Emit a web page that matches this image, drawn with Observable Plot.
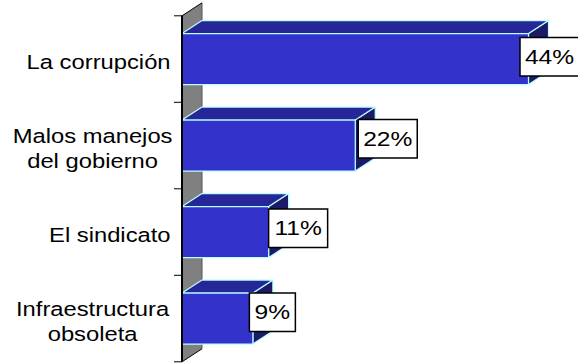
<!DOCTYPE html>
<html><head><meta charset="utf-8">
<style>html,body{margin:0;padding:0;background:#fff}svg{display:block}</style>
<script src="https://cdn.jsdelivr.net/npm/d3@7"></script>
<script src="https://cdn.jsdelivr.net/npm/@observablehq/plot@0.6"></script>
</head><body><div id="c"></div>
<script>
const categories = ["La corrupción", "Malos manejos\ndel gobierno", "El sindicato", "Infraestructura\nobsoleta"];
const values = [44, 22, 11, 9];
const valueLabels = ["44%", "22%", "11%", "9%"];
const rows = categories.map((c, i) => ({c, v: values[i], t: valueLabels[i], multi: c.includes("\n")}));

// 3-D look and label placement (pixels)
const yRange = [15.8, 361.8], paddingOuter = 0.205, paddingInner = 0.41;
const depthX = 20, depthY = -13, fontSize = 20.5;
const catStretch = 1.16, boxStretch = 1.2;
const boxNudge = [[-8.5, -2.3], [3, -6.8], [0, -3.8], [-3.5, -6.3]];
const boxW = [59, 59, 59, 46], boxH = 38.5;

const NS = "http://www.w3.org/2000/svg";
const el = (name, attrs) => {
  const e = document.createElementNS(NS, name);
  for (const k in attrs) e.setAttribute(k, attrs[k]);
  return e;
};
const poly = (pts, fill, stroke) => el("polygon", {
  points: pts.map(d => d.join(",")).join(" "), fill,
  ...(stroke ? {stroke, "stroke-width": 1.2, "stroke-linejoin": "round"} : {})
});
const line = (x1, y1, x2, y2, w, col = "#000") => el("line", {x1, y1, x2, y2, stroke: col, "stroke-width": w});

const wall = (index, sc) => {
  const g = el("g", {});
  const [top, bot] = yRange, x0 = sc.x(0);
  g.append(poly([[x0, top], [x0 + depthX, top + depthY], [x0 + depthX, bot + depthY], [x0, bot]], "#808080"));
  g.append(line(x0 + depthX, top + depthY, x0 + depthX, bot + depthY, 1, "#555"));
  g.append(line(x0, top, x0 + depthX, top + depthY, 1));
  g.append(line(x0, bot, x0 + depthX, bot + depthY, 1));
  return g;
};

const bars = (index, sc) => {
  const g = el("g", {});
  const bw = sc.y.bandwidth(), x0 = sc.x(0), edge = "#b8ffff";
  for (const i of index) {
    const x1 = sc.x(rows[i].v), y0 = sc.y(rows[i].c), y1 = y0 + bw;
    g.append(poly([[x1, y0], [x1 + depthX, y0 + depthY], [x1 + depthX, y1 + depthY], [x1, y1]], "#1a1a66", edge));
    g.append(poly([[x0, y0], [x0 + depthX, y0 + depthY], [x1 + depthX, y0 + depthY], [x1, y0]], "#262699", edge));
    g.append(poly([[x0, y0], [x1, y0], [x1, y1], [x0, y1]], "#3333cc", edge));
  }
  return g;
};

const axisLine = (index, sc) => {
  const g = el("g", {});
  const [top, bot] = yRange, x0 = sc.x(0), step = (bot - top) / categories.length;
  d3.range(categories.length + 1).forEach(i => g.append(line(x0 - 8, top + i * step, x0, top + i * step, 1)));
  g.append(line(x0, top, x0, bot, 2));
  return g;
};

const boxes = (index, sc) => {
  const g = el("g", {});
  for (const i of index) {
    const x = sc.x(rows[i].v) + boxNudge[i][0];
    const yc = sc.y(rows[i].c) + sc.y.bandwidth() / 2 + boxNudge[i][1];
    g.append(el("rect", {x, y: yc - boxH / 2, width: boxW[i], height: boxH, fill: "#fff", stroke: "#000", "stroke-width": 1.5}));
    const t = el("text", {
      transform: `translate(${x + boxW[i] / 2},${yc}) scale(${boxStretch},1)`,
      dy: "0.35em", "text-anchor": "middle", "font-size": fontSize, fill: "#000"
    });
    t.textContent = rows[i].t;
    g.append(t);
  }
  return g;
};

// Category text, widened to the reference's stretched lettering.
const widen = (index, scales, vals, dim, ctx, next) => {
  const g = el("g", {transform: `scale(${catStretch},1)`});
  g.append(next(index, scales, vals, dim, ctx));
  return g;
};
const catText = {y: "c", text: "c", frameAnchor: "left", dy: 1.2, fontSize, lineHeight: 1.234, fill: "#000", render: widen};

const chart = Plot.plot({
  width: 578, height: 363,
  marginLeft: 0, marginRight: 0, marginTop: 0, marginBottom: 0,
  style: {fontFamily: "'Liberation Sans', Arial, sans-serif", background: "#fff"},
  x: {domain: [0, 44], range: [182, 528.5], axis: null},
  y: {domain: categories, range: yRange, paddingInner, paddingOuter, round: false, axis: null},
  marks: [
    Plot.barX(rows, {x: "v", y: "c", render: wall}),
    Plot.barX(rows, {x: "v", y: "c", render: bars}),
    Plot.barX(rows, {x: "v", y: "c", render: axisLine}),
    Plot.barX(rows, {x: "v", y: "c", render: boxes}),
    Plot.text(rows.filter(d => !d.multi), {...catText, dx: 170 / catStretch, textAnchor: "end"}),
    Plot.text(rows.filter(d => d.multi), {...catText, dx: 92 / catStretch, textAnchor: "middle"})
  ]
});
document.getElementById("c").append(chart);
</script></body></html>
